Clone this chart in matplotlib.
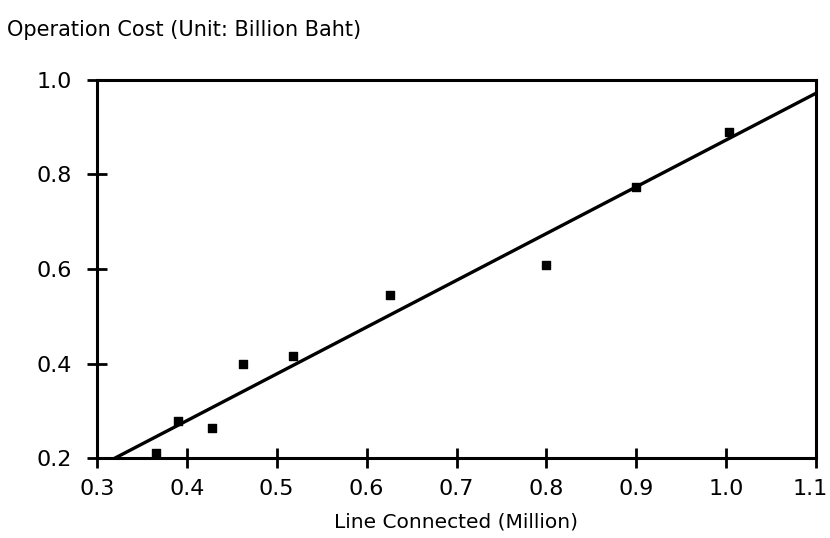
import matplotlib
matplotlib.use("Agg")
import matplotlib.pyplot as plt
from matplotlib.transforms import ScaledTranslation

# Lines connected (million) vs. operation cost (billion baht)
lines_connected = [0.366, 0.390, 0.428, 0.463, 0.518, 0.626, 0.800, 0.900, 1.003]
operation_cost = [0.210, 0.278, 0.263, 0.399, 0.416, 0.545, 0.608, 0.774, 0.890]

# Trend line end points
trend_x = [0.30, 1.10]
trend_y = [0.18, 0.972]

x_ticks = [0.3, 0.4, 0.5, 0.6, 0.7, 0.8, 0.9, 1.0, 1.1]
y_ticks = [0.2, 0.4, 0.6, 0.8, 1.0]

plt.rcParams['font.family'] = ['DejaVu Sans']

fig = plt.figure(figsize=(8.30, 5.38), dpi=100)
ax = fig.add_axes([97 / 830, 80 / 538, 719 / 830, 378 / 538])

ax.plot(trend_x, trend_y, color='black', linewidth=2.4, solid_capstyle='butt')
ax.scatter(lines_connected, operation_cost, marker='s', s=30, color='black', zorder=3)

ax.set_xlim(0.3, 1.1)
ax.set_ylim(0.2, 1.0)
ax.set_xticks(x_ticks)
ax.set_xticklabels([f"{v:.1f}" for v in x_ticks])
ax.set_yticks(y_ticks)
ax.set_yticklabels([f"{v:.1f}" for v in y_ticks])

for side in ax.spines.values():
    side.set_linewidth(2.2)
ax.tick_params(direction='inout', length=14, width=2, labelsize=16)
ax.tick_params(axis='x', pad=8)
ax.tick_params(axis='y', pad=11)

# keep the rightmost tick label inside the figure
last = ax.get_xticklabels()[-1]
last.set_transform(last.get_transform() + ScaledTranslation(-6 / 100, 0, fig.dpi_scale_trans))

ax.set_xlabel("Line Connected (Million)", fontsize=14.5, labelpad=10)
fig.text(7 / 830, 1 - 36 / 538, "Operation Cost (Unit: Billion Baht)",
         fontsize=15, ha='left', va='baseline')

fig.savefig("out.png", dpi=100, facecolor='white')
